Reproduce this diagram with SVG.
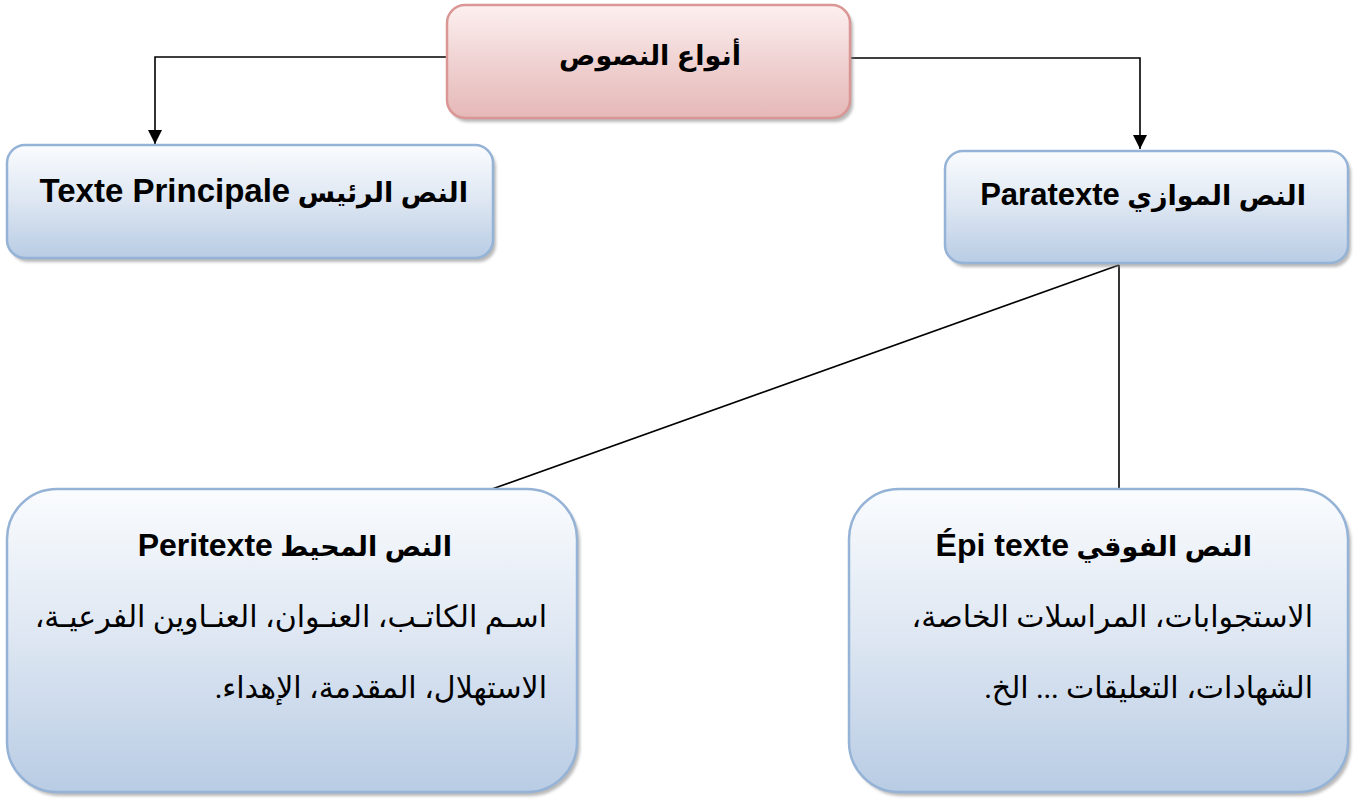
<svg xmlns="http://www.w3.org/2000/svg" width="1360" height="801" viewBox="0 0 1360 801">
  <style>
    .box-blue { fill: url(#gBlue); stroke: #95b3d7; stroke-width: 2.5; }
    .box-pink { fill: url(#gPink); stroke: #d99694; stroke-width: 2.5; }
    .shadow { fill: #7f7f7f; opacity: 0.55; filter: url(#soft); }
    .conn { fill: none; stroke: #000; stroke-width: 1.6; }
    .head { font-family: "Liberation Sans", "DejaVu Sans", sans-serif; font-weight: bold; fill: #000; }
    .body { font-family: "Liberation Serif", "DejaVu Serif", "DejaVu Sans", serif; fill: #000; }
  </style>
  <defs>
    <linearGradient id="gBlue" x1="0" y1="0" x2="0" y2="1">
      <stop offset="0" stop-color="#fafcfe"/>
      <stop offset="0.5" stop-color="#dde6f2"/>
      <stop offset="1" stop-color="#b8cce4"/>
    </linearGradient>
    <linearGradient id="gPink" x1="0" y1="0" x2="0" y2="1">
      <stop offset="0" stop-color="#fdf0f0"/>
      <stop offset="0.5" stop-color="#f0d2d2"/>
      <stop offset="1" stop-color="#e5b8b7"/>
    </linearGradient>
    <filter id="soft" x="-5%" y="-5%" width="110%" height="115%">
      <feGaussianBlur stdDeviation="1.5"/>
    </filter>
    <marker id="arrowBig" viewBox="0 0 14 14" refX="14" refY="7" markerWidth="14" markerHeight="14" markerUnits="userSpaceOnUse" orient="auto">
      <path d="M0,0 L14,7 L0,14 Z" fill="#000"/>
    </marker>
  </defs>

  <!-- connectors -->
  <g id="connectors">
    <path class="conn" d="M447,57 H155 V144" marker-end="url(#arrowBig)"/>
    <path class="conn" d="M850,58 H1140 V149" marker-end="url(#arrowBig)"/>
    <path class="conn" d="M1119,265 L492,489"/>
    <path class="conn" d="M1119,265 V489"/>
  </g>

  <!-- root node -->
  <g id="node-types">
    <rect class="shadow" x="450" y="9" width="403" height="113" rx="18"/>
    <rect class="box-pink" x="447" y="5" width="403" height="113" rx="18"/>
    <text class="head" x="650" y="65" font-size="27" text-anchor="middle" direction="rtl">أنواع النصوص</text>
  </g>

  <!-- main text -->
  <g id="node-main">
    <rect class="shadow" x="10" y="149" width="486" height="113" rx="18"/>
    <rect class="box-blue" x="7" y="145" width="486" height="113" rx="18"/>
    <text class="head" x="468" y="202" font-size="27" text-anchor="start" direction="rtl">النص الرئيس <tspan font-size="33">Texte Principale</tspan></text>
  </g>

  <!-- paratext -->
  <g id="node-paratext">
    <rect class="shadow" x="948" y="155" width="403" height="112" rx="18"/>
    <rect class="box-blue" x="945" y="151" width="403" height="112" rx="18"/>
    <text class="head" x="1306" y="205" font-size="27" text-anchor="start" direction="rtl">النص الموازي <tspan font-size="31">Paratexte</tspan></text>
  </g>

  <!-- peritext -->
  <g id="node-peritext">
    <rect class="shadow" x="10" y="493" width="570" height="303" rx="50"/>
    <rect class="box-blue" x="7" y="489" width="570" height="303" rx="50"/>
    <text class="head" x="452" y="556" font-size="27" text-anchor="start" direction="rtl">النص المحيط <tspan font-size="32">Peritexte</tspan></text>
    <text class="body" x="547" y="627" font-size="30" text-anchor="start" direction="rtl">اسـم الكاتـب، العنـوان، العنـاوين الفرعيـة،</text>
    <text class="body" x="547" y="698" font-size="30" text-anchor="start" direction="rtl">الاستهلال، المقدمة، الإهداء.</text>
  </g>

  <!-- epitext -->
  <g id="node-epitext">
    <rect class="shadow" x="852" y="493" width="499" height="303" rx="50"/>
    <rect class="box-blue" x="849" y="489" width="499" height="303" rx="50"/>
    <text class="head" x="1252" y="556" font-size="27" text-anchor="start" direction="rtl">النص الفوقي <tspan font-size="32">Épi texte</tspan></text>
    <text class="body" x="1313" y="627" font-size="30" text-anchor="start" direction="rtl">الاستجوابات، المراسلات الخاصة،</text>
    <text class="body" x="1313" y="698" font-size="30" text-anchor="start" direction="rtl">الشهادات، التعليقات ... الخ.</text>
  </g>
</svg>
